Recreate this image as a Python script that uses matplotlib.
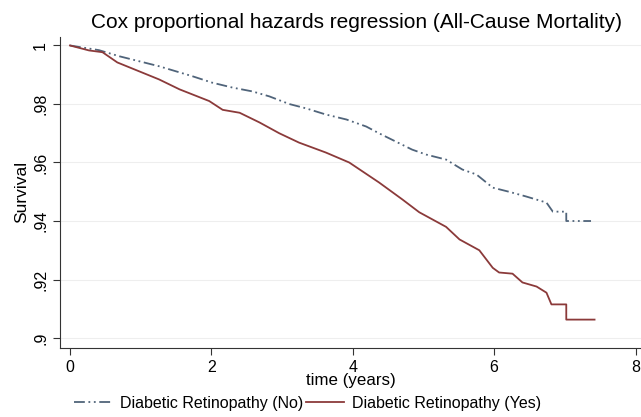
import matplotlib
matplotlib.use('Agg')
import matplotlib.pyplot as plt

plt.rcParams['font.family'] = ['Liberation Sans', 'DejaVu Sans']

# survival estimates (time in years)
t_no = [0, 0.41, 0.70, 0.98, 1.26, 1.73, 2.01, 2.30, 2.58, 2.82, 3.10, 3.34,
        3.62, 3.91, 4.19, 4.37, 4.84, 5.04, 5.32, 5.55, 5.75, 5.98, 6.21,
        6.45, 6.74, 6.83, 7.02, 7.02, 7.37]
s_no = [1.0, 0.9984, 0.9963, 0.9946, 0.9929, 0.9895, 0.9873, 0.9856, 0.9843,
        0.9826, 0.9800, 0.9785, 0.9764, 0.9747, 0.9723, 0.9700, 0.9644,
        0.9627, 0.9610, 0.9576, 0.9559, 0.9514, 0.9500, 0.9484, 0.9463,
        0.9432, 0.9432, 0.9400, 0.9400]

t_yes = [0, 0.27, 0.46, 0.67, 1.26, 1.55, 1.97, 2.16, 2.40, 2.68, 2.96, 3.24,
         3.62, 3.95, 4.37, 4.70, 4.94, 5.32, 5.51, 5.79, 5.98, 6.07, 6.26,
         6.40, 6.60, 6.74, 6.81, 7.02, 7.02, 7.42]
s_yes = [1.0, 0.9983, 0.9977, 0.9942, 0.9884, 0.9850, 0.9810, 0.9780, 0.9770,
         0.9737, 0.9700, 0.9668, 0.9634, 0.9600, 0.9532, 0.9474, 0.9430,
         0.9380, 0.9337, 0.9300, 0.9240, 0.9224, 0.9220, 0.9190, 0.9176,
         0.9155, 0.9115, 0.9115, 0.9063, 0.9063]

xticks = [0, 2, 4, 6, 8]
yticks = [0.90, 0.92, 0.94, 0.96, 0.98, 1.0]
ylabels = ['.9', '.92', '.94', '.96', '.98', '1']

fig = plt.figure(figsize=(6.41, 4.17), dpi=100)
ax = fig.add_axes([0.0936, 0.1655, 0.9064, 0.7465])

for y in yticks:
    ax.axhline(y, color='#eeeeee', lw=0.8, zorder=0)

ax.plot(t_no, s_no, color='#50647a', lw=1.3, linestyle=(0, (6, 2, 1, 2, 1, 2)),
        label='Diabetic Retinopathy (No)')
ax.plot(t_yes, s_yes, color='#8b3a3a', lw=1.3, label='Diabetic Retinopathy (Yes)')

ax.set_xlim(-0.141, 8.077)
ax.set_ylim(0.8966, 1.003)
ax.set_xticks(xticks)
ax.set_yticks(yticks)
ax.set_yticklabels(ylabels, rotation=90, va='center')
ax.tick_params(labelsize=11.5, color='#333333', length=5)

ax.spines['top'].set_visible(False)
ax.spines['right'].set_visible(False)
ax.spines['left'].set_color('#333333')
ax.spines['bottom'].set_color('#333333')

ax.set_xlabel('time (years)', fontsize=12.2, labelpad=-1)
ax.set_ylabel('Survival', fontsize=12.5, labelpad=3)
fig.text(0.556, 0.945, 'Cox proportional hazards regression (All-Cause Mortality)',
         fontsize=15, ha='center', va='center')

fig.legend(loc='lower center', ncol=2, frameon=False, fontsize=11.5,
           bbox_to_anchor=(0.48, -0.02), handlelength=2.4, columnspacing=0.15,
           handletextpad=0.5)

plt.savefig('out.png', dpi=100)
